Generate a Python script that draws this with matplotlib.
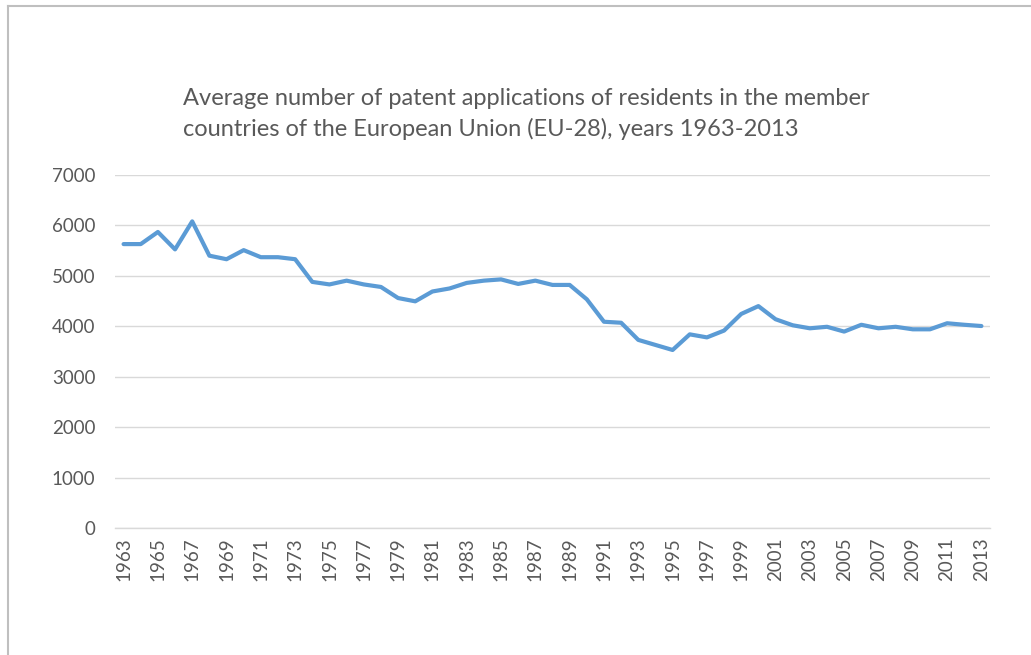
import matplotlib.pyplot as plt
from matplotlib.lines import Line2D

# --- DATA ---
years = list(range(1963, 2014))
applications = [
    5630, 5630, 5870, 5525, 6080, 5400, 5330, 5510, 5370, 5370,
    5330, 4880, 4830, 4905, 4830, 4780, 4560, 4495, 4690, 4750,
    4860, 4905, 4930, 4840, 4905, 4820, 4820, 4535, 4090, 4070,
    3730, 3630, 3530, 3840, 3780, 3915, 4245, 4400, 4140, 4020,
    3960, 3990, 3895, 4030, 3960, 3990, 3940, 3940, 4060, 4030,
    4005,
]
y_ticks = [0, 1000, 2000, 3000, 4000, 5000, 6000, 7000]
x_ticks = years[::2]

TITLE = ("Average number of patent applications of residents in the member\n"
         "countries of the European Union (EU-28), years 1963-2013")

# --- STYLE ---
plt.rcParams['font.family'] = ['Lato', 'DejaVu Sans']
TEXT_GRAY = '#595959'
GRID_GRAY = '#d9d9d9'
LINE_BLUE = '#5B9BD5'

W, H = 1031, 655
fig = plt.figure(figsize=(W / 100, H / 100), dpi=100)
ax = fig.add_axes([115 / W, 1 - 528 / H, (990 - 115) / W, (528 - 175) / H])

ax.plot(years, applications, color=LINE_BLUE, linewidth=3.0,
        solid_joinstyle='round', solid_capstyle='round', zorder=3)

ax.set_xlim(1962.5, 2013.5)
ax.set_ylim(0, 7000)
ax.set_yticks(y_ticks)
ax.set_xticks(x_ticks)
ax.set_xticklabels([str(y) for y in x_ticks], rotation=90)

ax.grid(axis='y', color=GRID_GRAY, linewidth=1.0)
ax.set_axisbelow(True)
for side in ['top', 'right', 'left']:
    ax.spines[side].set_visible(False)
ax.spines['bottom'].set_color(GRID_GRAY)
ax.spines['bottom'].set_linewidth(1.0)
ax.tick_params(length=0, labelsize=13.5, labelcolor=TEXT_GRAY)
ax.tick_params(axis='y', pad=14)
ax.tick_params(axis='x', pad=7)

fig.text(183 / W, 1 - 88 / H, TITLE, fontsize=17, color=TEXT_GRAY,
         ha='left', va='top', linespacing=1.5)

# chart frame (only the top and left edges show in the reference)
fig.add_artist(Line2D([8 / W, 8 / W], [0, 1 - 6 / H], transform=fig.transFigure,
                      color='#bfbfbf', linewidth=1.5))
fig.add_artist(Line2D([8 / W, 1], [1 - 6 / H, 1 - 6 / H], transform=fig.transFigure,
                      color='#bfbfbf', linewidth=1.5))

fig.savefig('out.png', dpi=100, facecolor='white')
